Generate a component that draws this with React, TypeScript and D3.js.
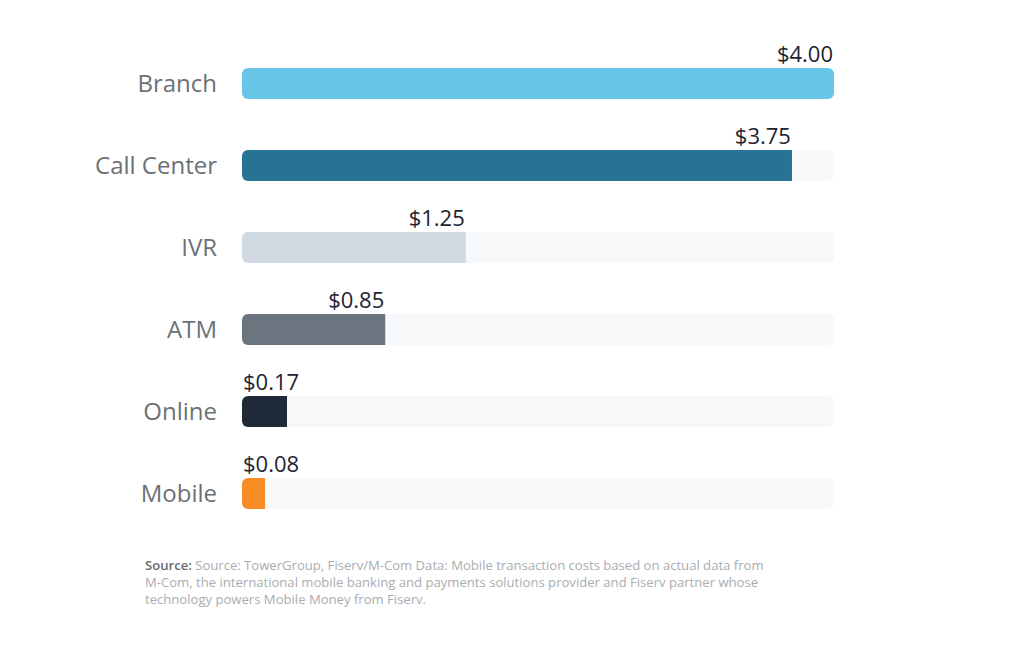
import React from "react";
import * as d3 from "d3";

const categories = ["Branch", "Call Center", "IVR", "ATM", "Online", "Mobile"];
const costs = [4.0, 3.75, 1.25, 0.85, 0.17, 0.08];
// bar fill share of the track, as drawn in the picture (not proportional to cost)
const barShare = [1.0, 0.929, 0.378, 0.242, 0.076, 0.039];
const colors = ["#67C5E8", "#267393", "#D0D9E1", "#6A7580", "#1E2A38", "#F78B24"];
const sourceLines = [
  "Source: TowerGroup, Fiserv/M-Com Data: Mobile transaction costs based on actual data from",
  "M-Com, the international mobile banking and payments solutions provider and Fiserv partner whose",
  "technology powers Mobile Money from Fiserv.",
];

const W = 1024;
const H = 649;

export default function App() {
  const x = d3.scaleLinear().domain([0, 1]).range([242, 834]);
  const y = d3.scaleBand().domain(categories).range([68, 509]).paddingInner(0.622).paddingOuter(0);
  const bh = y.bandwidth();
  const font = "'Open Sans', sans-serif";
  return (
    <svg width={W} height={H} style={{ position: "absolute", left: 0, top: 0, background: "#fff" }}>
      <defs>
        {categories.map((c, i) => (
          <clipPath id={`clip${i}`} key={c}>
            <rect x={x(0)} y={y(c)} width={x(1) - x(0)} height={bh} rx={6} />
          </clipPath>
        ))}
      </defs>
      {categories.map((c, i) => {
        const y0 = y(c) as number;
        const end = x(barShare[i]);
        const label = `$${costs[i].toFixed(2)}`;
        const wide = end - x(0) > 70;
        return (
          <g key={c}>
            <g clipPath={`url(#clip${i})`}>
              <rect x={x(0)} y={y0} width={x(1) - x(0)} height={bh} fill="#F7F8F9" />
              <rect x={x(0)} y={y0} width={end - x(0)} height={bh} fill={colors[i]} />
            </g>
            <text
              x={217}
              y={y0 + bh / 2}
              dy="0.35em"
              textAnchor="end"
              fontFamily={font}
              fontSize={24}
              fill="#6B7177"
            >
              {c}
            </text>
            <text
              x={wide ? end - 1 : x(0) + 1}
              y={y0 - 6}
              textAnchor={wide ? "end" : "start"}
              fontFamily={font}
              fontSize={22}
              fill="#1E2430"
            >
              {label}
            </text>
          </g>
        );
      })}
      <text fontFamily={font} fontSize={13.1} fill="#A9ADB1">
        {sourceLines.map((l, i) => (
          <tspan key={i} x={145} y={570 + i * 16.8}>
            {i === 0 ? (
              <>
                <tspan fill="#666A6E" fontWeight={600}>Source:</tspan> {l}
              </>
            ) : (
              l
            )}
          </tspan>
        ))}
      </text>
    </svg>
  );
}
